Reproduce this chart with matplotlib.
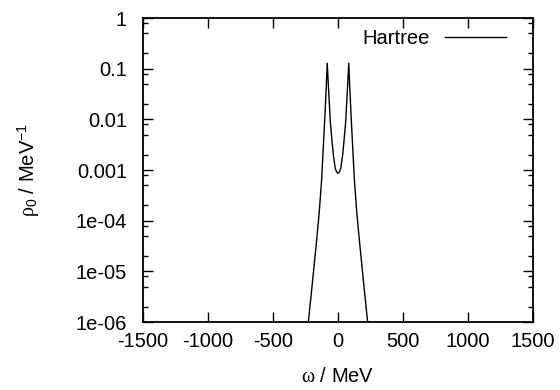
import matplotlib
matplotlib.use('Agg')
import matplotlib.pyplot as plt
from matplotlib.ticker import FixedLocator, FuncFormatter, LogLocator, NullFormatter

plt.rcParams['font.family'] = ['Liberation Sans', 'DejaVu Sans']
plt.rcParams['mathtext.fontset'] = 'custom'
plt.rcParams['mathtext.rm'] = 'Liberation Sans'
plt.rcParams['mathtext.it'] = 'Liberation Serif'
plt.rcParams['axes.unicode_minus'] = False

# spectral function
omega = [-228, -200, -169, -145, -126, -103, -90, -83, -75, -59, -45, -36, -21, -10, 0,
         10, 21, 36, 45, 59, 75, 83, 90, 103, 126, 145, 169, 200, 228]
rho = [1.0e-6, 5.0e-6, 3.1e-5, 1.4e-4, 6.4e-4, 8.9e-3, 0.045, 0.128, 0.052, 8.9e-3, 3.5e-3, 2.0e-3, 1.07e-3, 9.1e-4, 8.6e-4,
       9.1e-4, 1.07e-3, 2.0e-3, 3.5e-3, 8.9e-3, 0.052, 0.128, 0.045, 8.9e-3, 6.4e-4, 1.4e-4, 3.1e-5, 5.0e-6, 1.0e-6]

xticks = [-1500, -1000, -500, 0, 500, 1000, 1500]
yticks = [1e-6, 1e-5, 1e-4, 1e-3, 1e-2, 1e-1, 1]
ylabels = ['1e-06', '1e-05', '1e-04', '0.001', '0.01', '0.1', '1']

fs = 14.5

fig = plt.figure(figsize=(5.6, 3.9), dpi=100)
ax = fig.add_axes([143/560, 68/390, 390/560, 304/390])

ax.plot(omega, rho, color='black', lw=1.0, label='Hartree')
ax.set_yscale('log')
ax.set_xlim(-1500, 1500)
ax.set_ylim(1e-6, 1)

ax.xaxis.set_major_locator(FixedLocator(xticks))
ax.yaxis.set_major_locator(FixedLocator(yticks))
ax.yaxis.set_major_formatter(FuncFormatter(lambda v, p: ylabels[yticks.index(v)] if v in yticks else ''))
ax.yaxis.set_minor_locator(LogLocator(base=10, subs=[2, 5, 8]))
ax.yaxis.set_minor_formatter(NullFormatter())

ax.tick_params(which='both', direction='in', top=True, right=True, labelsize=fs, width=1.0)
ax.tick_params(which='major', length=7)
ax.tick_params(which='minor', length=3.6)
ax.tick_params(axis='x', which='major', pad=7)
ax.tick_params(axis='y', which='major', pad=11.5)
for s in ax.spines.values():
    s.set_linewidth(1.3)

ax.set_xlabel(r'$\omega$ / MeV', fontsize=fs, labelpad=12)
ax.set_ylabel(r'$\rho_0$ / MeV$^{-1}$', fontsize=fs, labelpad=24)

ax.legend(loc='upper right', bbox_to_anchor=(1.0 - 7/390, 1.0 + 9/304), frameon=False, markerfirst=False,
          handlelength=3.0, handletextpad=0.8, fontsize=fs, borderaxespad=0.6)

fig.savefig('out.png', dpi=100)
